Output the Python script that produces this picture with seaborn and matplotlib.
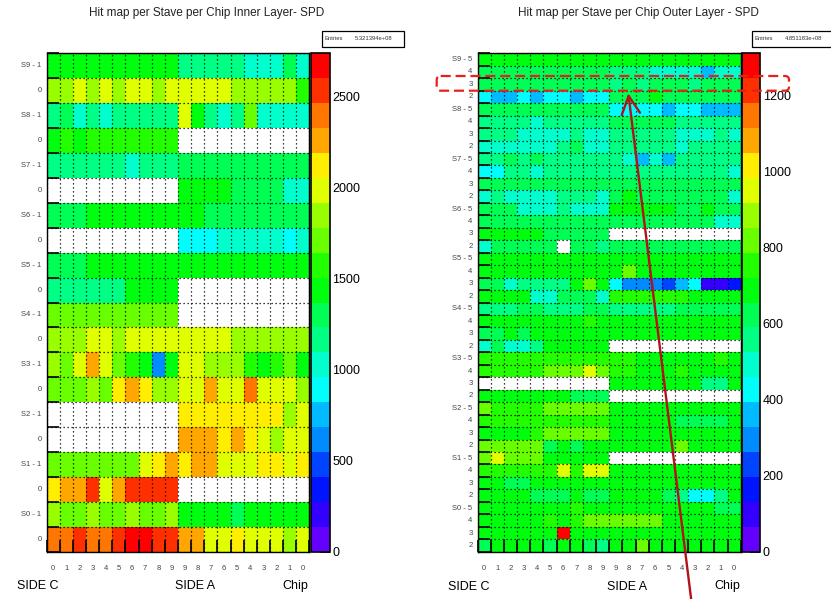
import colorsys

import numpy as np
import pandas as pd
import matplotlib
matplotlib.use("Agg")
import matplotlib.pyplot as plt
from matplotlib.colors import ListedColormap
from matplotlib.patches import FancyBboxPatch, Rectangle
import seaborn as sns

# ---------------------------------------------------------------- data
chip_labels = ["0", "1", "2", "3", "4", "5", "6", "7", "8", "9",
               "9", "8", "7", "6", "5", "4", "3", "2", "1", "0"]

inner_rows = ["S9 - 1", "0", "S8 - 1", "0", "S7 - 1", "0", "S6 - 1", "0", "S5 - 1", "0",
              "S4 - 1", "0", "S3 - 1", "0", "S2 - 1", "0", "S1 - 1", "0", "S0 - 1", "0"]

outer_rows = []
for s in range(9, -1, -1):
    outer_rows += [f"S{s} - 5", "4", "3", "2"]

inner_entries = "5.321394e+08"
outer_entries = "4.851183e+08"
inner_zmax = 2737
outer_zmax = 1311

# hits per chip, inner layer (0 = no entries)
inner_hits = [
    [1440, 1440, 1440, 1440, 1440, 1440, 1440, 1440, 1440, 1440, 1165, 1165, 1165, 1165, 1165, 1030, 1030, 1030, 1300, 1030],  # S9-1
    [1850, 1850, 1985, 1850, 1985, 1850, 1985, 1985, 1850, 1985, 1985, 1985, 1985, 1985, 1850, 1850, 1850, 1850, 1850, 1575],  # S9-0
    [1165, 1300, 1030, 1165, 1030, 1165, 1165, 1165, 1165, 1165, 1985, 1440, 1165, 1030, 1165, 1710, 1030, 1030, 1030, 1030],  # S8-1
    [1440, 1575, 1440, 1575, 1575, 1575, 1575, 1575, 1575, 1575, 0, 0, 0, 0, 0, 0, 0, 0, 0, 0],                                # S8-0
    [1165, 1165, 1165, 1165, 1165, 1165, 1030, 1165, 1165, 1165, 1300, 1300, 1300, 1300, 1300, 1300, 1300, 1300, 1300, 1300],  # S7-1
    [0, 0, 0, 0, 0, 0, 0, 0, 0, 0, 1440, 1440, 1440, 1440, 1300, 1300, 1300, 1300, 1030, 1030],                                # S7-0
    [1300, 1300, 1300, 1440, 1440, 1440, 1440, 1440, 1440, 1440, 1440, 1440, 1300, 1300, 1300, 1300, 1300, 1300, 1300, 1300],  # S6-1
    [0, 0, 0, 0, 0, 0, 0, 0, 0, 0, 890, 890, 890, 1030, 1030, 1030, 1030, 1030, 890, 1030],                                    # S6-0
    [1300, 1300, 1300, 1440, 1440, 1440, 1440, 1440, 1440, 1440, 1440, 1440, 1440, 1440, 1440, 1440, 1440, 1440, 1440, 1440],  # S5-1
    [1165, 1165, 1165, 1165, 1165, 1165, 1440, 1440, 1440, 1440, 0, 0, 0, 0, 0, 0, 0, 0, 0, 0],                                # S5-0
    [1710, 1710, 1710, 1710, 1710, 1710, 1710, 1710, 1710, 1710, 0, 0, 0, 0, 0, 0, 0, 0, 0, 0],                                # S4-1
    [1850, 1850, 1850, 1985, 1985, 1850, 1985, 1985, 1985, 1985, 1985, 1985, 1985, 1985, 1850, 1850, 1850, 1850, 1850, 1850],  # S4-0
    [1850, 1710, 1985, 2260, 1985, 1710, 1575, 1440, 615, 1440, 1985, 1985, 1850, 1850, 1850, 1575, 1440, 1575, 1710, 1440],   # S3-1
    [1710, 1710, 1710, 1850, 1710, 2120, 2260, 2120, 1850, 1850, 1985, 1985, 2260, 1985, 1985, 2395, 1985, 1985, 1985, 1850],  # S3-0
    [0, 0, 0, 0, 0, 0, 0, 0, 0, 0, 2120, 2120, 2120, 2120, 2120, 2120, 2120, 2120, 1850, 1985],                                # S2-1
    [0, 0, 0, 0, 0, 0, 0, 0, 0, 0, 2260, 2260, 2260, 2120, 2260, 2120, 1985, 1850, 1985, 1985],                                # S2-0
    [1710, 1710, 1710, 1710, 1710, 1710, 1710, 1985, 2120, 2260, 2120, 2260, 2260, 1985, 1985, 1985, 2120, 2120, 1985, 2120],  # S1-1
    [2120, 2260, 2260, 2535, 1985, 2260, 2535, 2535, 2535, 2535, 0, 0, 0, 0, 0, 0, 0, 0, 0, 0],                                # S1-0
    [1850, 1710, 1710, 1850, 1710, 1710, 1850, 1710, 1710, 1850, 1440, 1440, 1440, 1440, 1300, 1440, 1440, 1440, 1440, 1440],  # S0-1
    [2395, 2395, 2535, 2395, 2395, 2535, 2700, 2670, 2535, 2535, 2260, 2260, 1985, 1985, 2120, 1985, 1985, 1985, 1850, 1985],  # S0-0
]

# hits per chip, outer layer (0 = no entries)
outer_hits = [
    [690, 690, 690, 690, 690, 690, 690, 690, 690, 690, 690, 690, 690, 690, 690, 690, 690, 690, 690, 690],  # S9-5
    [620, 620, 620, 620, 620, 620, 620, 620, 620, 620, 555, 555, 555, 490, 490, 490, 490, 360, 490, 490],  # S9-4
    [620, 620, 620, 620, 620, 620, 620, 620, 620, 620, 555, 620, 555, 620, 620, 620, 555, 620, 620, 620],  # S9-3
    [425, 360, 360, 425, 360, 425, 425, 360, 425, 425, 620, 620, 620, 690, 620, 620, 620, 620, 620, 620],  # S9-2
    [620, 620, 620, 620, 620, 620, 620, 620, 620, 620, 425, 425, 425, 425, 360, 425, 425, 360, 360, 360],  # S8-5
    [555, 555, 555, 555, 490, 555, 555, 555, 555, 555, 620, 620, 620, 620, 620, 555, 555, 555, 555, 555],  # S8-4
    [555, 555, 555, 490, 490, 490, 490, 555, 490, 490, 555, 555, 555, 555, 555, 490, 490, 490, 555, 490],  # S8-3
    [490, 490, 490, 490, 490, 490, 555, 620, 490, 490, 555, 555, 555, 555, 555, 490, 555, 555, 555, 555],  # S8-2
    [555, 555, 620, 555, 620, 555, 555, 555, 555, 555, 555, 490, 360, 490, 360, 555, 555, 555, 555, 555],  # S7-5
    [425, 425, 555, 555, 490, 555, 555, 555, 555, 555, 555, 555, 555, 555, 555, 555, 555, 555, 555, 490],  # S7-4
    [620, 620, 620, 620, 620, 620, 620, 620, 620, 620, 620, 620, 620, 620, 620, 620, 620, 620, 620, 620],  # S7-3
    [490, 555, 490, 490, 490, 490, 555, 555, 555, 490, 620, 690, 620, 620, 620, 620, 620, 620, 620, 490],  # S7-2
    [620, 620, 620, 490, 490, 490, 555, 490, 490, 490, 690, 690, 690, 690, 690, 620, 620, 690, 620, 620],  # S6-5
    [620, 620, 620, 620, 620, 620, 620, 620, 620, 620, 620, 620, 620, 620, 620, 620, 620, 620, 490, 490],  # S6-4
    [690, 690, 690, 690, 690, 620, 620, 620, 620, 620, 0, 0, 0, 0, 0, 0, 0, 0, 0, 0],                      # S6-3
    [490, 620, 620, 620, 620, 620, 0, 620, 620, 555, 620, 620, 620, 620, 620, 620, 620, 620, 620, 620],    # S6-2
    [690, 690, 690, 690, 690, 690, 690, 690, 690, 690, 690, 690, 690, 690, 690, 690, 690, 690, 690, 690],  # S5-5
    [690, 690, 690, 690, 690, 690, 690, 690, 690, 690, 690, 820, 690, 690, 690, 690, 690, 690, 690, 690],  # S5-4
    [620, 620, 490, 555, 555, 555, 555, 690, 820, 690, 425, 295, 295, 295, 230, 360, 425, 100, 100, 165],  # S5-3
    [690, 690, 690, 690, 490, 490, 620, 620, 620, 490, 755, 755, 755, 755, 755, 755, 690, 690, 690, 690],  # S5-2
    [555, 555, 555, 620, 620, 555, 555, 555, 620, 620, 555, 555, 555, 555, 555, 620, 620, 620, 620, 620],  # S4-5
    [690, 690, 690, 690, 690, 690, 690, 690, 755, 690, 690, 690, 690, 690, 690, 690, 690, 690, 690, 690],  # S4-4
    [620, 620, 690, 620, 690, 690, 690, 690, 690, 690, 690, 690, 690, 690, 690, 690, 690, 690, 690, 690],  # S4-3
    [490, 620, 490, 490, 555, 690, 690, 690, 690, 690, 0, 0, 0, 0, 0, 0, 0, 0, 0, 0],                      # S4-2
    [755, 755, 755, 755, 755, 755, 755, 755, 755, 755, 755, 755, 690, 690, 690, 690, 690, 690, 755, 690],  # S3-5
    [755, 755, 755, 755, 755, 820, 820, 820, 950, 820, 755, 755, 690, 690, 690, 755, 690, 690, 690, 690],  # S3-4
    [0, 0, 0, 0, 0, 0, 0, 0, 0, 0, 690, 690, 690, 690, 690, 690, 690, 555, 555, 690],                      # S3-3
    [690, 690, 690, 690, 690, 690, 690, 620, 620, 620, 0, 0, 0, 0, 0, 0, 0, 0, 0, 0],                      # S3-2
    [820, 755, 755, 755, 755, 820, 820, 820, 820, 820, 690, 690, 690, 690, 690, 690, 690, 690, 690, 690],  # S2-5
    [755, 755, 755, 755, 755, 755, 755, 755, 755, 755, 690, 690, 690, 690, 690, 620, 620, 620, 620, 690],  # S2-4
    [690, 690, 690, 690, 755, 820, 820, 820, 820, 820, 690, 690, 690, 690, 690, 690, 690, 690, 690, 690],  # S2-3
    [820, 820, 820, 820, 820, 620, 690, 620, 690, 690, 690, 690, 690, 690, 690, 820, 690, 690, 690, 690],  # S2-2
    [820, 950, 820, 820, 820, 690, 690, 690, 690, 690, 0, 0, 0, 0, 0, 0, 0, 0, 0, 0],                      # S1-5
    [755, 755, 755, 755, 755, 755, 950, 755, 950, 950, 690, 690, 690, 690, 690, 690, 690, 690, 690, 690],  # S1-4
    [690, 690, 620, 620, 690, 690, 690, 690, 690, 690, 690, 690, 690, 690, 690, 690, 690, 690, 690, 690],  # S1-3
    [690, 690, 690, 690, 620, 620, 620, 690, 620, 620, 690, 690, 690, 690, 620, 555, 425, 425, 555, 690],  # S1-2
    [690, 690, 690, 690, 690, 690, 690, 755, 690, 690, 690, 690, 690, 690, 690, 690, 690, 690, 620, 620],  # S0-5
    [690, 690, 690, 690, 690, 755, 690, 755, 820, 820, 820, 820, 820, 820, 690, 690, 690, 690, 690, 690],  # S0-4
    [690, 690, 690, 690, 690, 690, 1300, 690, 690, 690, 690, 690, 690, 690, 690, 690, 690, 690, 690, 690], # S0-3
    [620, 690, 690, 690, 690, 620, 690, 690, 620, 555, 690, 690, 820, 690, 690, 690, 690, 690, 690, 690],  # S0-2
]

# ---------------------------------------------------------------- style
sns.set_theme(style="white")
plt.rcParams["font.family"] = ["Liberation Sans", "DejaVu Sans"]


def root_pretty_palette(ncontours=20):
    """ROOT's 50-colour HLS 'pretty' palette (violet -> red) picked for n contours."""
    pretty = [colorsys.hls_to_rgb((280 - (i + 1) * 5.6) / 360.0, 0.5, 1.0) for i in range(49)]
    pretty.append((1.0, 0.0, 0.0))
    return ListedColormap([pretty[int((k + 0.99) * 50 / ncontours)] for k in range(ncontours)])


cmap = root_pretty_palette(20)

W, H = 831, 599
fig = plt.figure(figsize=(W / 100, H / 100), dpi=100)


def px_box(x0, y0, x1, y1):
    return [x0 / W, 1 - y1 / H, (x1 - x0) / W, (y1 - y0) / H]


ax_in = fig.add_axes(px_box(46.7, 53.3, 309.3, 551.7))
cax_in = fig.add_axes(px_box(310.7, 53.3, 330.0, 551.7))
ax_out = fig.add_axes(px_box(477.7, 53.3, 740.7, 551.7))
cax_out = fig.add_axes(px_box(741.5, 53.3, 760.5, 551.7))

panels = [
    (ax_in, cax_in, inner_hits, inner_rows, inner_zmax, [0, 500, 1000, 1500, 2000, 2500]),
    (ax_out, cax_out, outer_hits, outer_rows, outer_zmax, [0, 200, 400, 600, 800, 1000, 1200]),
]

for ax, cax, hits, rows, zmax, cticks in panels:
    df = pd.DataFrame(hits, index=rows)
    sns.heatmap(df, ax=ax, cbar_ax=cax, cmap=cmap, vmin=0, vmax=zmax,
                mask=df <= 0, xticklabels=chip_labels, yticklabels=rows,
                linewidths=0)
    nrow, ncol = df.shape

    # bin boundaries: dotted grid + long inward ticks on the left and bottom
    ax.set_xticks(np.arange(ncol + 1), minor=True)
    ax.set_yticks(np.arange(nrow + 1), minor=True)
    ax.set_axisbelow(False)
    ax.grid(which="minor", color="black", linestyle=(0, (1.0, 2.2)), linewidth=0.9)
    ax.tick_params(which="minor", direction="in", length=8.5, width=1.2,
                   color="black", left=True, bottom=True, top=False, right=False)
    ax.tick_params(which="major", length=0, colors="#444444")
    ax.tick_params(axis="y", which="major", labelsize=5.5, pad=3.8, labelrotation=0)
    ax.tick_params(axis="x", which="major", labelsize=5.5, pad=9.5, labelrotation=0)
    for sp in ax.spines.values():
        sp.set_visible(True)
        sp.set_color("black")
        sp.set_linewidth(1.0)

    cbar = ax.collections[0].colorbar
    cbar.set_ticks(cticks)
    cbar.outline.set_edgecolor("black")
    cbar.outline.set_linewidth(1.2)
    cax.tick_params(direction="in", length=7.5, width=1.2, color="black",
                    labelsize=9, pad=1.5, right=True, labelcolor="black")

# ---------------------------------------------------------------- annotations
ov = fig.add_axes([0, 0, 1, 1])
ov.set_xlim(0, W)
ov.set_ylim(H, 0)
ov.axis("off")
ov.set_zorder(10)

ov.text(206.7, 13, "Hit map per Stave per Chip Inner Layer- SPD",
        ha="center", va="center", fontsize=8.5, color="#222222")
ov.text(638.8, 13, "Hit map per Stave per Chip Outer Layer - SPD",
        ha="center", va="center", fontsize=8.5, color="#222222")

# statistics boxes
for x0, x1, label in [(321.7, 404.0, inner_entries), (751.7, 834.0, outer_entries)]:
    ov.add_patch(Rectangle((x0 + 1.2, 32.0), x1 - x0, 16.0, facecolor="black",
                           edgecolor="none", clip_on=False))
    ov.add_patch(Rectangle((x0, 30.7), x1 - x0, 16.0, facecolor="white",
                           edgecolor="black", linewidth=0.9, clip_on=False))
    ov.text(x0 + 2.5, 38.9, "Entries", fontsize=4.2, ha="left", va="center", color="#333333")
    ov.text(x0 + 71, 38.9, label, fontsize=4.2, ha="right", va="center", color="#333333")

for x, y, s in [(17.3, 586, "SIDE C"), (175, 586, "SIDE A"), (282.7, 586, "Chip"),
                (448.3, 586.5, "SIDE C"), (606.7, 586.5, "SIDE A"), (714, 586.5, "Chip")]:
    ov.text(x, y, s, fontsize=9, ha="left", va="center", color="black")

# highlighted stave and arrow
ov.add_patch(FancyBboxPatch((436.7, 76.0), 352.3, 14.7,
                            boxstyle="round,pad=0,rounding_size=4",
                            facecolor="none", edgecolor="#e8201a", linewidth=1.6,
                            linestyle=(0, (4.5, 2.2)), clip_on=False))
ov.annotate("", xy=(628.3, 93.3), xytext=(691.5, 602),
            arrowprops=dict(arrowstyle="->,head_length=0.65,head_width=0.33",
                            color="#b3121a", lw=1.7, mutation_scale=20,
                            shrinkA=0, shrinkB=0),
            annotation_clip=False)

fig.savefig("out.png", dpi=100)
